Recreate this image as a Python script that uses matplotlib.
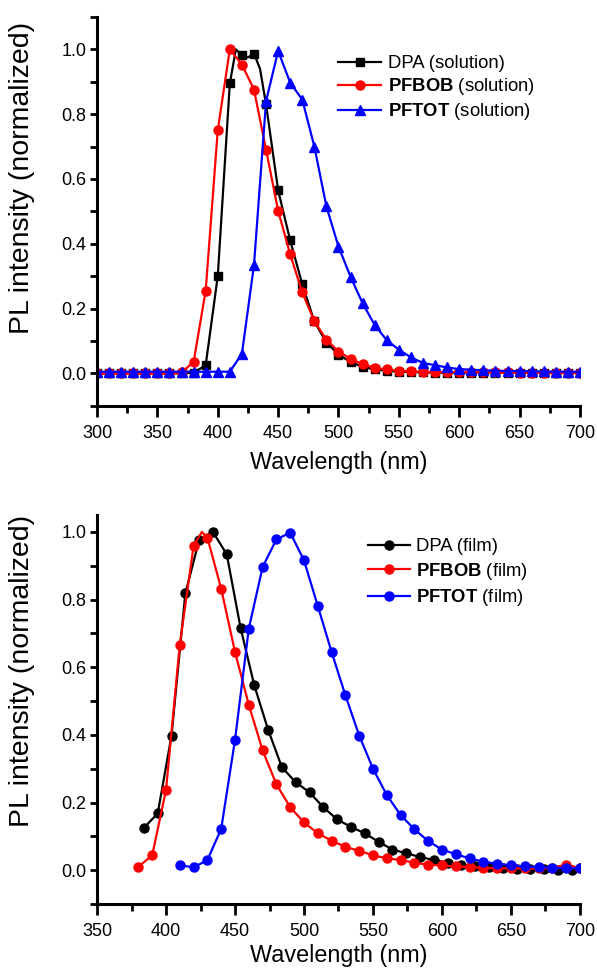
import numpy as np
import matplotlib.pyplot as plt
from matplotlib.ticker import MultipleLocator, FormatStrFormatter

plt.rcParams['font.family'] = ['Liberation Sans', 'DejaVu Sans']
plt.rcParams['mathtext.fontset'] = 'custom'
plt.rcParams['mathtext.rm'] = 'Liberation Sans'
plt.rcParams['mathtext.bf'] = 'Liberation Sans:bold'

# 溶液光谱 (solution)
wl_sol = list(range(300, 701, 10))
wl_dpa_sol = list(range(300, 411, 10)) + [415, 420, 425, 430, 435, 440] + list(range(450, 701, 10))
dpa_sol = [0.0] * 8 + [0.002, 0.025, 0.30, 0.895, 1.0, 0.982, 0.975, 0.987, 0.94, 0.83,
                       0.565, 0.41, 0.275, 0.16, 0.095, 0.058, 0.035, 0.02, 0.012, 0.008,
                       0.005, 0.004, 0.003] + [0.002] * 13
pfbob_sol = [0.0] * 7 + [0.003, 0.035, 0.255, 0.75, 1.0, 0.953, 0.876, 0.69, 0.502, 0.367,
                         0.25, 0.161, 0.104, 0.067, 0.045, 0.028, 0.017, 0.012, 0.008, 0.006,
                         0.005, 0.004, 0.004, 0.003,
                         0.003, 0.003, 0.003, 0.003, 0.002, 0.002, 0.002, 0.002, 0.002, 0.002]
pftot_sol = [0.005] * 12 + [0.06, 0.334, 0.84, 0.995, 0.897, 0.845, 0.70, 0.515, 0.391, 0.298,
                            0.216, 0.149, 0.102, 0.073, 0.049, 0.032, 0.025, 0.018, 0.013, 0.011,
                            0.009, 0.008, 0.007, 0.007, 0.006, 0.006, 0.005, 0.005, 0.005]

# 薄膜光谱 (film)
wl_dpa_film = list(range(384, 695, 10))
dpa_film = [0.125, 0.168, 0.398, 0.818, 0.976, 1.0, 0.934, 0.717, 0.546, 0.415,
            0.304, 0.26, 0.23, 0.186, 0.15, 0.128, 0.109, 0.084, 0.061, 0.05,
            0.039, 0.03, 0.022, 0.016, 0.012, 0.009, 0.006, 0.004, 0.003, 0.002,
            0.001, 0.0]
wl_pfbob_film = [380, 390, 400, 410, 420, 426] + list(range(430, 701, 10))
pfbob_film = [0.01, 0.044, 0.237, 0.667, 0.959, 1.0, 0.983, 0.832, 0.645, 0.489,
              0.354, 0.254, 0.186, 0.141, 0.109, 0.087, 0.069, 0.057, 0.044, 0.035,
              0.03, 0.022, 0.016, 0.014, 0.011, 0.009, 0.007, 0.006, 0.005, 0.005,
              0.005, 0.006, 0.016, 0.005]
wl_pftot_film = list(range(410, 701, 10))
pftot_film = [0.015, 0.008, 0.03, 0.122, 0.385, 0.714, 0.896, 0.978, 0.998, 0.916,
              0.781, 0.645, 0.517, 0.398, 0.30, 0.222, 0.163, 0.121, 0.086, 0.061,
              0.047, 0.035, 0.025, 0.019, 0.014, 0.011, 0.009, 0.007, 0.006, 0.005]


def every10(wl, off=0):
    return [(w - off) % 10 == 0 for w in wl]


def setup(ax, xmin, ylim, xpad, ly):
    ax.set_xlim(xmin, 700)
    ax.set_ylim(*ylim)
    for s in ['top', 'right']:
        ax.spines[s].set_visible(False)
    for s in ['left', 'bottom']:
        ax.spines[s].set_linewidth(2.2)
    ax.xaxis.set_major_locator(MultipleLocator(50))
    ax.xaxis.set_minor_locator(MultipleLocator(25))
    ax.yaxis.set_major_locator(MultipleLocator(0.2))
    ax.yaxis.set_minor_locator(MultipleLocator(0.1))
    ax.yaxis.set_major_formatter(FormatStrFormatter('%.1f'))
    ax.tick_params(axis='x', which='major', length=8, width=2, pad=6, labelsize=13)
    ax.tick_params(axis='x', which='minor', length=5, width=2)
    ax.tick_params(axis='y', which='both', length=5, width=2, pad=2.5, labelsize=13)
    ax.set_xlabel('Wavelength (nm)', fontsize=16.8, labelpad=xpad)
    ax.set_ylabel('PL intensity (normalized)', fontsize=20.5)
    ax.yaxis.set_label_coords(-0.128, ly)


fig = plt.figure(figsize=(5.97, 9.69), dpi=100)
ax1 = fig.add_axes([0.1625, 0.5813, 0.809, 0.4012])
ax2 = fig.add_axes([0.1625, 0.0671, 0.809, 0.4014])

setup(ax1, 300, (-0.1, 1.1), 6.5, 0.587)
ax1.plot(wl_dpa_sol, dpa_sol, '-s', color='black', lw=1.6, ms=5.5,
         markevery=every10(wl_dpa_sol), label='DPA (solution)')
ax1.plot(wl_sol, pfbob_sol, '-o', color='red', lw=1.6, ms=6.5,
         label=r'$\mathbf{PFBOB}$ (solution)')
ax1.plot(wl_sol, pftot_sol, '-^', color='blue', lw=1.6, ms=6.5,
         label=r'$\mathbf{PFTOT}$ (solution)')
ax1.legend(loc='upper left', bbox_to_anchor=(338 / 597, 1 - 55 / 969),
           bbox_transform=fig.transFigure, frameon=False, fontsize=13.3,
           handlelength=2.35, handletextpad=0.35, labelspacing=0.22,
           borderpad=0, borderaxespad=0)

setup(ax2, 350, (-0.1, 1.05), 2.5, 0.60)
ax2.plot(wl_dpa_film, dpa_film, '-o', color='black', lw=1.6, ms=6.5,
         label='DPA (film)')
ax2.plot(wl_pfbob_film, pfbob_film, '-o', color='red', lw=1.6, ms=6.5,
         markevery=every10(wl_pfbob_film), label=r'$\mathbf{PFBOB}$ (film)')
ax2.plot(wl_pftot_film, pftot_film, '-o', color='blue', lw=1.6, ms=6.5,
         label=r'$\mathbf{PFTOT}$ (film)')
ax2.legend(loc='upper left', bbox_to_anchor=(368 / 597, 1 - 538 / 969),
           bbox_transform=fig.transFigure, frameon=False, fontsize=13.3,
           handlelength=2.25, handletextpad=0.35, labelspacing=0.3,
           borderpad=0, borderaxespad=0)

fig.savefig('out.png', dpi=100)
